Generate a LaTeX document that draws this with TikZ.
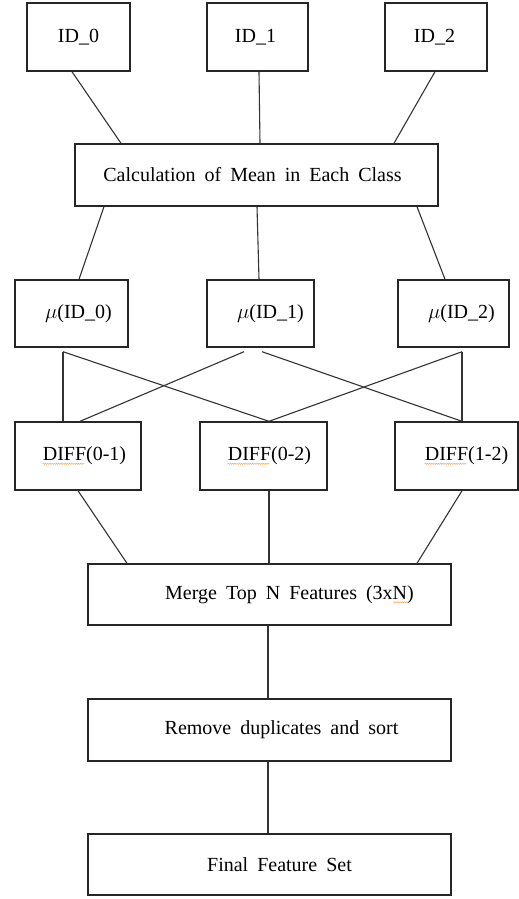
\documentclass[tikz,border=0pt]{standalone}
\usepackage{fontspec}
\setmainfont[WordSpace=1.8]{Liberation Serif}
\usepackage{tikz}
\usetikzlibrary{decorations.pathmorphing}

\begin{document}
\begin{tikzpicture}[x=1pt,y=-1pt,
  font=\fontsize{20}{24}\selectfont,
  box/.style={draw=black!85, line width=1.4pt, minimum width=#1, inner sep=0pt},
  tall/.style={minimum height=68pt},
  low/.style={minimum height=62pt},
  link/.style={draw=black!80, line width=1.1pt},
  spell/.style={draw=orange!70, line width=0.5pt, decorate,
    decoration={snake, amplitude=0.6pt, segment length=2.2pt}},
  every label/.style={inner sep=0pt}]
  \useasboundingbox (0,0) rectangle (519,899);

  % classes
  \node[box=103pt,tall,label={center:ID\_0}] (id0) at (78.5,37) {};
  \node[box=101pt,tall,label={[xshift=-2]center:ID\_1}] (id1) at (257.5,37) {};
  \node[box=102pt,tall,label={[xshift=-1.5]center:ID\_2}] (id2) at (436,37) {};
  \node[box=363pt,low,label={[xshift=-4]center:Calculation of Mean in Each Class}] (calc) at (256.5,175) {};

  % means
  \node[box=113pt,minimum height=67pt,label={[xshift=7]center:$\mu$(ID\_0)}] (mu0) at (71.5,313.5) {};
  \node[box=107pt,minimum height=67pt,label={[xshift=10]center:$\mu$(ID\_1)}] (mu1) at (260.5,313.5) {};
  \node[box=111pt,minimum height=67pt,label={[xshift=8]center:$\mu$(ID\_2)}] (mu2) at (453.5,313.5) {};

  % differences
  \node[box=126pt,tall,label={[name=d0t,xshift=6.5]center:DIFF(0-1)}] (d0) at (78,456) {};
  \node[box=127pt,tall,label={[name=d1t,xshift=6]center:DIFF(0-2)}] (d1) at (263.5,456) {};
  \node[box=123pt,tall,label={[name=d2t,xshift=10]center:DIFF(1-2)}] (d2) at (456.5,456) {};

  % merging
  \node[box=363pt,minimum height=61pt,label={[name=mt,xshift=20]center:Merge Top N Features (3xN)}] (merge) at (269.5,594.5) {};
  \node[box=363pt,low,label={[xshift=12]center:Remove duplicates and sort}] (remove) at (269.5,730) {};
  \node[box=363pt,minimum height=61pt,label={[xshift=10]center:Final Feature Set}] (final) at (269.5,864.5) {};

  \foreach \a/\ax/\b/\bx in {id0/-6.5/calc/-135.5, id1/1.5/calc/3.5, id2/-1/calc/137.5,
    calc/-152.5/mu0/7.5, calc/0.5/mu1/-1.5, calc/160.5/mu2/-8.5,
    d0/0/merge/-142.5, d1/5.5/merge/-0.5, d2/5.5/merge/147.5,
    merge/-1.5/remove/-1.5, remove/-1.5/final/-1.5}
    \draw[link] ([xshift=\ax]\a.south) -- ([xshift=\bx]\b.north);

  % crossing links
  \foreach \a/\ax/\b/\bx in {mu0/-8.5/d0/-15, mu0/-8.5/d1/5.5, mu1/-16.5/d0/2,
    mu1/1.5/d2/5.5, mu2/8.5/d1/5.5, mu2/8.5/d2/5.5}
    \draw[link] ([xshift=\ax,yshift=-4]\a.south) -- ([xshift=\bx]\b.north);

  \foreach \t in {d0t,d1t,d2t}
    \draw[spell] ([yshift=-3]\t.base west) -- ++(42,0);
  \draw[spell] ([xshift=-21,yshift=-3]mt.base east) -- ++(15,0);
\end{tikzpicture}
\end{document}
